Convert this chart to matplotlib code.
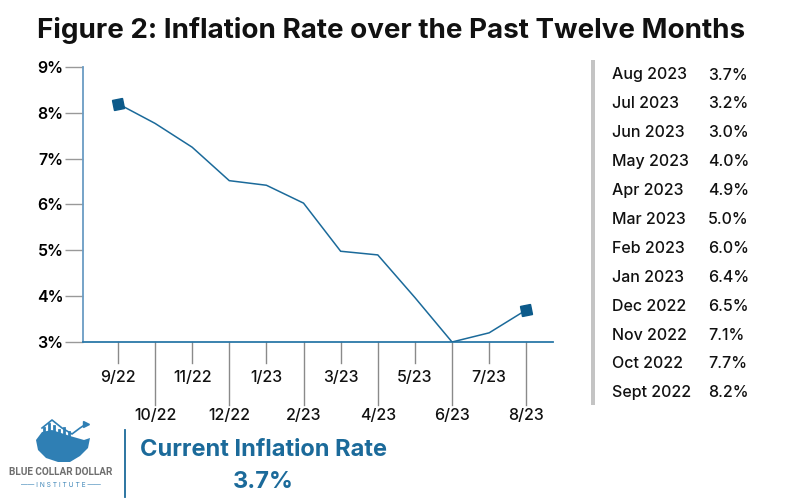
import matplotlib.pyplot as plt
from matplotlib.markers import MarkerStyle
from matplotlib.transforms import Affine2D
from matplotlib.patches import Rectangle, Polygon
from matplotlib.lines import Line2D

plt.rcParams['font.family'] = ['Inter', 'DejaVu Sans']

months = ['9/22', '10/22', '11/22', '12/22', '1/23', '2/23',
          '3/23', '4/23', '5/23', '6/23', '7/23', '8/23']
rates = [8.2, 7.77, 7.25, 6.52, 6.42, 6.03, 4.98, 4.9, 3.97, 3.0, 3.2, 3.7]

table_months = ['Aug 2023', 'Jul 2023', 'Jun 2023', 'May 2023', 'Apr 2023',
                'Mar 2023', 'Feb 2023', 'Jan 2023', 'Dec 2022', 'Nov 2022',
                'Oct 2022', 'Sept 2022']
table_values = ['3.7%', '3.2%', '3.0%', '4.0%', '4.9%', '5.0%', '6.0%',
                '6.4%', '6.5%', '7.1%', '7.7%', '8.2%']

yticks = [3, 4, 5, 6, 7, 8, 9]
current_rate = '3.7%'

blue = '#1b6a9a'
dark_blue = '#0c5a8a'

fig = plt.figure(figsize=(8, 5), dpi=100)
W, H = 800, 500

def px(x, y):
    return x / W, 1 - y / H

# main axes
ax = fig.add_axes([83 / W, 158 / H, (553 - 83) / W, (342 - 67) / H])
ax.set_xlim(-0.94, 11.72)
ax.set_ylim(3, 9)

x = list(range(len(months)))
ax.plot(x, rates, color=blue, lw=1.1, solid_joinstyle='miter', zorder=3)
sq = MarkerStyle('s', transform=Affine2D().rotate_deg(15))
ax.plot([x[0], x[-1]], [rates[0], rates[-1]], ls='none', marker=sq,
        ms=7.5, color=dark_blue, zorder=4)

for s in ['top', 'right']:
    ax.spines[s].set_visible(False)
ax.spines['left'].set_color('#6a9cc4')
ax.spines['left'].set_linewidth(1.3)
ax.spines['bottom'].set_color('#2b78a8')
ax.spines['bottom'].set_linewidth(1.3)

ax.set_yticks(yticks)
ax.set_yticklabels([f'{v}%' for v in yticks], fontsize=11.5, fontweight='semibold')
ax.tick_params(axis='y', length=13, width=1, color='#999999', pad=1)

ax.set_xticks([])
# alternating x ticks and labels, drawn below the axis
unit = 6 / 275  # data units per pixel
for i, m in enumerate(months):
    long = i % 2 == 1
    end = 405 if long else 363
    ax.plot([i, i], [3, 3 - (end - 342) * unit], color='#8a8a8a', lw=1,
            clip_on=False)
    ty = 3 - ((415 if long else 378) - 342) * unit
    ax.text(i, ty, m, ha='center', va='center', fontsize=11.5,
            fontweight='medium', color='#111111', clip_on=False)

# title
fig.text(*px(391, 31), 'Figure 2: Inflation Rate over the Past Twelve Months',
         ha='center', va='center', fontsize=20, fontweight='bold', color='#111111')

# right table
fig.patches.append(Rectangle(px(591, 405), 4 / W, (405 - 60) / H,
                             transform=fig.transFigure, color='#c4c4c4', lw=0))
for k, (m, v) in enumerate(zip(table_months, table_values)):
    yy = 75 + k * 28.9
    fig.text(*px(612, yy), m, ha='left', va='center', fontsize=11.5,
             fontweight='medium', color='#111111')
    fig.text(*px(708, yy), v, ha='left', va='center', fontsize=11.5,
             fontweight='medium', color='#111111')

# footer
fig.lines.append(Line2D([125 / W, 125 / W], [1 - 497 / H, 1 - 430 / H],
                        transform=fig.transFigure, color=blue, lw=1.3))
fig.text(*px(263, 450), 'Current Inflation Rate', ha='center', va='center',
         fontsize=17, fontweight='bold', color=blue)
fig.text(*px(263, 482), current_rate, ha='center', va='center',
         fontsize=17, fontweight='bold', color=blue)

# logo (simplified)
fig.text(*px(61, 472), 'BLUE COLLAR DOLLAR', ha='center', va='center',
         fontsize=7.2, fontweight='bold', color='#6e6e6e',
         family=['Roboto', 'DejaVu Sans'])
fig.text(*px(61, 485), '—— I N S T I T U T E ——', ha='center', va='center',
         fontsize=4.8, color='#3f86b8')
usa = [(36, 440), (42, 432), (52, 430), (70, 436), (84, 440), (90, 438),
       (88, 448), (80, 456), (70, 462), (58, 462), (46, 458), (38, 450)]
fig.patches.append(Polygon([px(a, b) for a, b in usa], closed=True,
                           transform=fig.transFigure, color='#2f7fb4', lw=0))
for bx, top in [(44, 428), (49, 424), (54, 426), (59, 430), (64, 428), (69, 432)]:
    fig.lines.append(Line2D([bx / W, bx / W], [1 - 445 / H, 1 - top / H],
                            transform=fig.transFigure, color='#2f7fb4', lw=2))
trend = [(42, 428), (52, 420), (62, 428), (72, 434), (80, 428), (86, 424)]
fig.lines.append(Line2D([px(a, b)[0] for a, b in trend],
                        [px(a, b)[1] for a, b in trend],
                        transform=fig.transFigure, color='#2f7fb4', lw=1.2))
fig.lines.append(Line2D([px(86, 424)[0]], [px(86, 424)[1]], marker='>', ms=4,
                        transform=fig.transFigure, color='#2f7fb4'))

fig.savefig('out.png', dpi=100)
